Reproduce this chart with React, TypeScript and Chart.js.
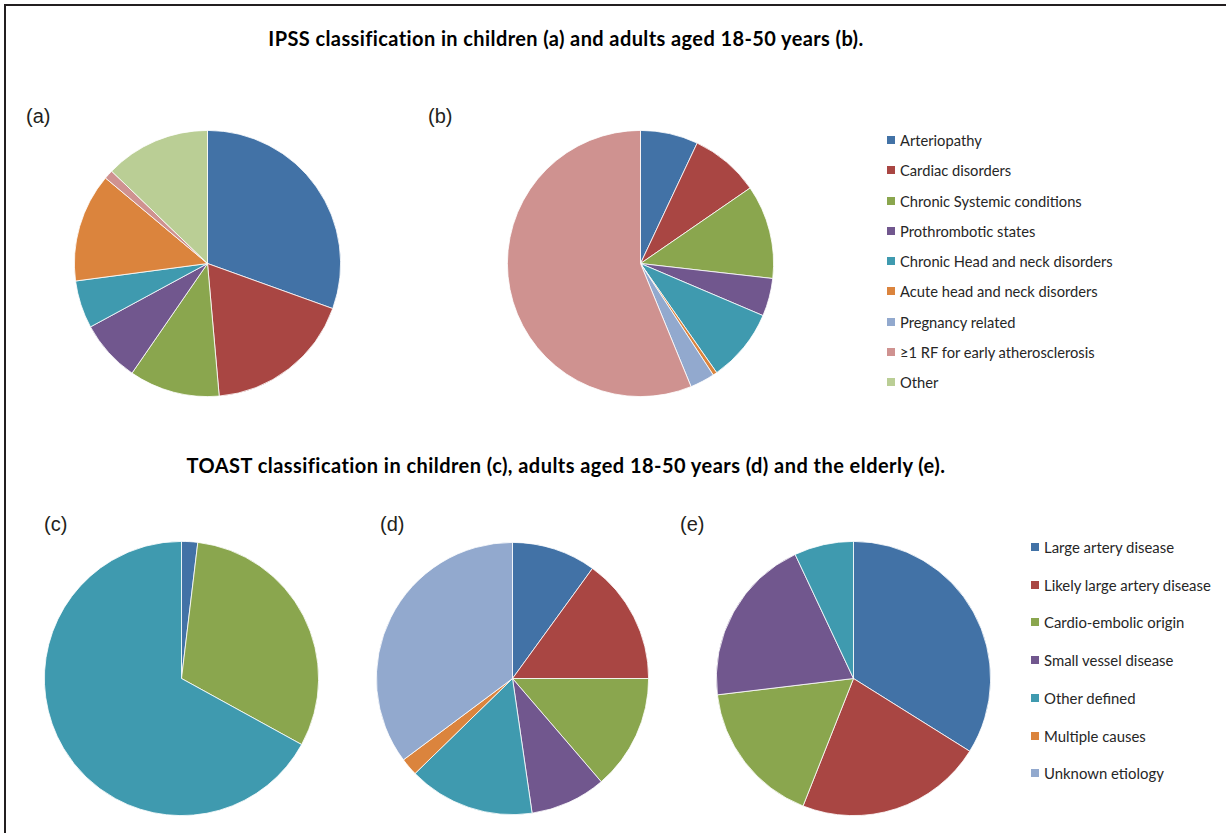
import React, { useEffect, useRef } from "react";
import { Chart, registerables } from "chart.js";

Chart.register(...registerables);

const ipssLabels = [
  "Arteriopathy",
  "Cardiac disorders",
  "Chronic Systemic conditions",
  "Prothrombotic states",
  "Chronic Head and neck disorders",
  "Acute head and neck disorders",
  "Pregnancy related",
  "≥1 RF for early atherosclerosis",
  "Other",
];
const ipssChildren = [30.5, 18.1, 11.0, 7.5, 5.8, 13.2, 0, 1.1, 12.8];
const ipssAdults = [7.0, 8.4, 11.4, 4.6, 8.9, 0.5, 3.0, 56.2, 0];

const toastLabels = [
  "Large artery disease",
  "Likely large artery disease",
  "Cardio-embolic origin",
  "Small vessel disease",
  "Other defined",
  "Multiple causes",
  "Unknown etiology",
];
const toastChildren = [1.9, 0, 31.1, 0, 67.0, 0, 0];
const toastAdults = [10.0, 15.0, 13.7, 9.0, 15.0, 2.1, 35.2];
const toastElderly = [33.9, 22.1, 17.1, 19.9, 7.0, 0, 0];

const ipssTitle = "IPSS classification in children (a) and adults aged 18-50 years (b).";
const toastTitle = "TOAST classification in children (c), adults aged 18-50 years (d) and the elderly (e).";

const palette = [
  "#4272A6",
  "#A94643",
  "#8AA64E",
  "#71578E",
  "#3F9AAF",
  "#DB843D",
  "#92A9CE",
  "#CF9290",
  "#BACE95",
];

type PieProps = { labels: string[]; values: number[]; cx: number; cy: number; r: number };

function Pie({ labels, values, cx, cy, r }: PieProps) {
  const ref = useRef<HTMLCanvasElement | null>(null);
  useEffect(() => {
    if (!ref.current) return;
    const chart = new Chart(ref.current, {
      type: "pie",
      data: {
        labels,
        datasets: [
          {
            data: values,
            backgroundColor: palette.slice(0, values.length),
            borderColor: "#ffffff",
            borderWidth: values.map((v) => (v > 0 ? 0.8 : 0)),
            hoverOffset: 0,
            offset: 0,
          },
        ],
      },
      options: {
        animation: false,
        responsive: true,
        maintainAspectRatio: false,
        layout: { padding: 0 },
        plugins: { legend: { display: false }, tooltip: { enabled: false } },
      },
    });
    return () => chart.destroy();
  }, []);
  const size = 2 * r + 1;
  return (
    <div
      style={{
        position: "absolute",
        left: cx - size / 2,
        top: cy - size / 2,
        width: size,
        height: size,
      }}
    >
      <canvas ref={ref} />
    </div>
  );
}

function Legend({ labels, x, y0, step, fs }: { labels: string[]; x: number; y0: number; step: number; fs: number }) {
  return (
    <>
      {labels.map((l, i) => (
        <div
          key={l}
          style={{
            position: "absolute",
            left: x,
            top: y0 + i * step - 10,
            height: 20,
            display: "flex",
            alignItems: "center",
            whiteSpace: "nowrap",
            fontFamily: "Lato, 'Open Sans', sans-serif",
            fontSize: fs,
            color: "#262626",
          }}
        >
          <span
            style={{
              display: "inline-block",
              width: 8,
              height: 8,
              background: palette[i],
              marginRight: 5,
            }}
          />
          {l}
        </div>
      ))}
    </>
  );
}

const panelLabel = (t: string, x: number, y: number) => (
  <div
    style={{
      position: "absolute",
      left: x,
      top: y - 12,
      height: 24,
      lineHeight: "24px",
      fontFamily: "'Liberation Sans', Arial, sans-serif",
      fontSize: 20,
      color: "#231f20",
    }}
  >
    {t}
  </div>
);

const titleStyle = (y: number, ls: number): React.CSSProperties => ({
  position: "absolute",
  left: 0,
  width: 1132,
  top: y - 12,
  height: 24,
  lineHeight: "24px",
  textAlign: "center",
  whiteSpace: "nowrap",
  fontFamily: "Lato, 'Open Sans', sans-serif",
  fontWeight: 700,
  fontSize: 20,
  letterSpacing: ls,
  color: "#000",
});

export default function App() {
  return (
    <div
      style={{
        position: "fixed",
        left: 0,
        top: 0,
        width: 1226,
        height: 833,
        background: "#fff",
        overflow: "hidden",
      }}
    >
      <div style={{ position: "absolute", left: 4, top: 4, right: 0, height: 2, background: "#231f20" }} />
      <div style={{ position: "absolute", left: 4, top: 4, bottom: 0, width: 2, background: "#231f20" }} />

      <div style={titleStyle(38, 0.4)}>{ipssTitle}</div>
      <div style={titleStyle(465, 0.45)}>{toastTitle}</div>

      {panelLabel("(a)", 26, 116)}
      {panelLabel("(b)", 428, 116)}
      {panelLabel("(c)", 44, 524)}
      {panelLabel("(d)", 380, 524)}
      {panelLabel("(e)", 680, 524)}

      <Pie labels={ipssLabels} values={ipssChildren} cx={207} cy={263} r={133} />
      <Pie labels={ipssLabels} values={ipssAdults} cx={640} cy={263} r={133} />
      <Pie labels={toastLabels} values={toastChildren} cx={181} cy={678} r={137} />
      <Pie labels={toastLabels} values={toastAdults} cx={512} cy={678} r={136} />
      <Pie labels={toastLabels} values={toastElderly} cx={853} cy={678} r={137} />

      <Legend labels={ipssLabels} x={887} y0={140} step={30.25} fs={14.7} />
      <Legend labels={toastLabels} x={1031} y0={547} step={37.7} fs={14.9} />
    </div>
  );
}
